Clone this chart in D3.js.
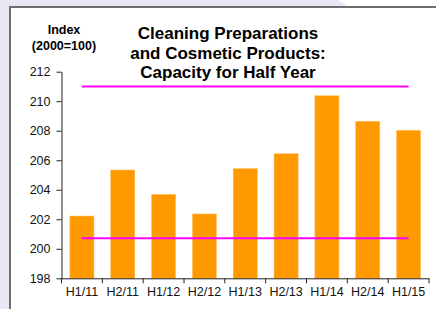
<!DOCTYPE html>
<html><head><meta charset="utf-8">
<script src="https://cdn.jsdelivr.net/npm/d3@7"></script>
<style>body{margin:0;background:#fff}svg{display:block}</style>
</head><body>
<svg id="c" width="436" height="309"></svg>
<script>
const categories = ["H1/11","H2/11","H1/12","H2/12","H1/13","H2/13","H1/14","H2/14","H1/15"];
const values = [202.22, 205.34, 203.69, 202.36, 205.43, 206.44, 210.37, 208.64, 208.03];
const upperLine = [211.0];
const lowerLine = [200.71];
const yTicks = [198,200,202,204,206,208,210,212];
const titleLines = ["Cleaning Preparations","and Cosmetic Products:","Capacity for Half Year"];
const yTitle = ["Index","(2000=100)"];

const svg = d3.select("#c");
const W = 436, H = 309;
const font = "Liberation Sans, Arial, sans-serif";

// page background
svg.append("rect").attr("width",W).attr("height",H).attr("fill","#e8e8f3");
svg.append("path").attr("d","M338,0 L436,0 L436,8 L350,8 Z").attr("fill","#ffffff");
// frame
svg.append("rect").attr("x",10).attr("y",7).attr("width",W).attr("height",H)
  .attr("fill","#fff").attr("stroke","#6e6e6e").attr("stroke-width",2);

const m = {left:61.5, right:429, top:71.7, bottom:278.3};
const x = d3.scaleBand().domain(categories).range([m.left, m.right]).paddingInner(0.41).paddingOuter(0.205);
const y = d3.scaleLinear().domain([198,212]).range([m.bottom, m.top]);

// bars
svg.append("g").selectAll("rect").data(values).join("rect")
  .attr("x",(d,i)=>x(categories[i]))
  .attr("y",d=>y(d))
  .attr("width",x.bandwidth())
  .attr("height",d=>y(198)-y(d))
  .attr("fill","#ff9900")
  .attr("stroke","#ffc266").attr("stroke-width",0.6);

// reference lines
const x0 = x(categories[0]) + x.bandwidth()/2;
const x1 = x(categories[categories.length-1]) + x.bandwidth()/2;
[upperLine[0], lowerLine[0]].forEach(v=>{
  svg.append("line").attr("x1",x0).attr("x2",x1).attr("y1",y(v)).attr("y2",y(v))
    .attr("stroke","#ff00ff").attr("stroke-width",2);
});

// y axis
const yAxis = svg.append("g").attr("transform",`translate(${m.left},0)`)
  .call(d3.axisLeft(y).tickValues(yTicks).tickSize(5).tickPadding(6).tickSizeOuter(0));
yAxis.select(".domain").attr("stroke","#222");
yAxis.selectAll(".tick line").attr("stroke","#222");
yAxis.selectAll("text").attr("font-family",font).attr("font-size","12.5px").attr("fill","#111");

// x axis
const xAxis = svg.append("g").attr("transform",`translate(0,${m.bottom})`)
  .call(d3.axisBottom(x).tickSize(0).tickPadding(9).tickSizeOuter(0));
xAxis.select(".domain").attr("stroke","#222");
xAxis.selectAll("text").attr("font-family",font).attr("font-size","12.5px").attr("fill","#111");
const step = x.step();
const bounds = d3.range(categories.length+1).map(i=>m.left + i*(m.right-m.left)/categories.length);
svg.append("g").selectAll("line").data(bounds).join("line")
  .attr("x1",d=>d).attr("x2",d=>d).attr("y1",m.bottom).attr("y2",m.bottom+5)
  .attr("stroke","#222");

// title
svg.append("text").attr("x",228).attr("y",39).attr("text-anchor","middle")
  .attr("font-family",font).attr("font-weight","bold").attr("font-size","17px").attr("fill","#000")
  .selectAll("tspan").data(titleLines).join("tspan")
  .attr("x",228).attr("dy",(d,i)=>i?19.5:0).text(d=>d);

// y title
svg.append("text").attr("text-anchor","middle")
  .attr("font-family",font).attr("font-weight","bold").attr("font-size","12.5px").attr("fill","#000")
  .selectAll("tspan").data(yTitle).join("tspan")
  .attr("x",64).attr("y",(d,i)=>34+i*15.7).text(d=>d);
</script>
</body></html>
